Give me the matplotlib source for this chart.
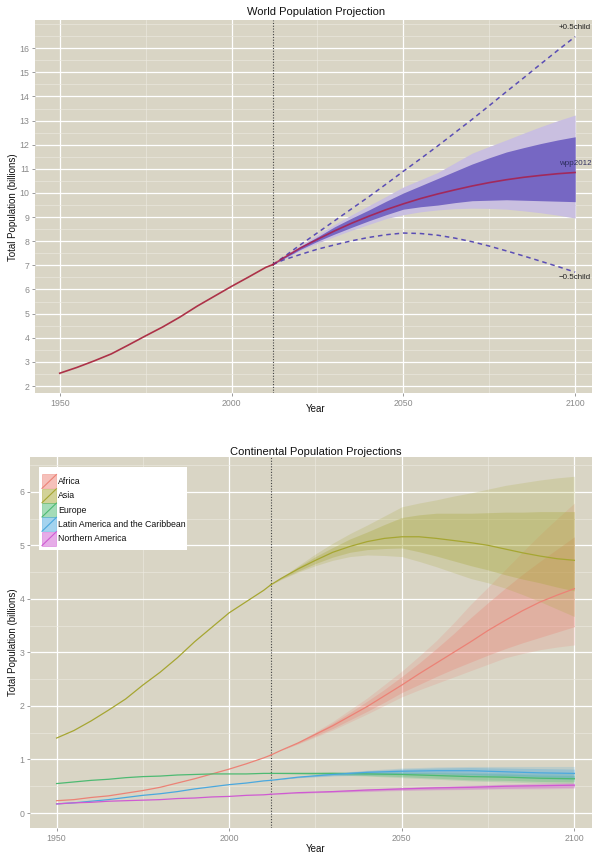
import matplotlib
matplotlib.use("Agg")
import matplotlib.pyplot as plt
from matplotlib.patches import Patch, Rectangle
from matplotlib.lines import Line2D
from matplotlib.legend_handler import HandlerBase
from matplotlib.ticker import MultipleLocator, FixedLocator

plt.rcParams["font.family"] = ["Liberation Sans", "DejaVu Sans"]

W, H = 592, 855
BG = "#D9D5C5"
BASE_YEAR = 2012

# --- world totals (billions) ---
HIST_YEARS = [1950, 1955, 1960, 1965, 1970, 1975, 1980, 1985, 1990, 1995, 2000, 2005, 2010, 2012]
PROJ_YEARS = [2012, 2015, 2020, 2025, 2030, 2035, 2040, 2045, 2050, 2055,
              2060, 2065, 2070, 2075, 2080, 2085, 2090, 2095, 2100]
DECADE_YEARS = [2012, 2020, 2030, 2040, 2050, 2060, 2070, 2080, 2090, 2100]

world_hist = [2.53, 2.77, 3.04, 3.33, 3.70, 4.08, 4.45, 4.86, 5.31, 5.72, 6.13, 6.52, 6.92, 7.03]
world_med = [7.03, 7.30, 7.72, 8.08, 8.43, 8.75, 9.04, 9.31, 9.55, 9.77,
             9.96, 10.13, 10.29, 10.43, 10.55, 10.65, 10.73, 10.80, 10.85]
world_lo80 = [7.03, 7.27, 7.66, 8.00, 8.30, 8.58, 8.85, 9.10, 9.33, 9.43,
              9.50, 9.60, 9.68, 9.70, 9.72, 9.70, 9.68, 9.66, 9.64]
world_hi80 = [7.03, 7.33, 7.78, 8.18, 8.60, 8.96, 9.30, 9.66, 10.00, 10.30,
              10.60, 10.90, 11.20, 11.46, 11.70, 11.88, 12.05, 12.20, 12.33]
world_lo95 = [7.03, 7.25, 7.62, 7.92, 8.20, 8.46, 8.70, 8.94, 9.10, 9.22,
              9.30, 9.35, 9.37, 9.36, 9.33, 9.26, 9.18, 9.08, 8.96]
world_hi95 = [7.03, 7.35, 7.82, 8.27, 8.70, 9.10, 9.48, 9.86, 10.25, 10.55,
              10.85, 11.25, 11.65, 11.93, 12.20, 12.48, 12.75, 13.00, 13.23]
world_high = [7.03, 7.33, 7.85, 8.35, 8.85, 9.35, 9.85, 10.37, 10.90, 11.42,
              11.95, 12.50, 13.05, 13.62, 14.20, 14.77, 15.35, 15.92, 16.48]
world_low = [7.03, 7.22, 7.45, 7.67, 7.85, 8.02, 8.16, 8.27, 8.34, 8.32,
             8.25, 8.13, 7.98, 7.80, 7.60, 7.39, 7.17, 6.95, 6.72]

# --- continents (billions) ---
REGIONS = ["Africa", "Asia", "Europe", "Latin America and the Caribbean", "Northern America"]
REGION_COLORS = ["#EC8276", "#A6A632", "#4DBA72", "#4AA8DE", "#CF5AD2"]

reg_hist = {
    "Africa": [0.23, 0.25, 0.29, 0.32, 0.37, 0.42, 0.48, 0.56, 0.64, 0.73, 0.82, 0.92, 1.03, 1.08],
    "Asia": [1.40, 1.54, 1.72, 1.92, 2.13, 2.39, 2.63, 2.90, 3.20, 3.47, 3.74, 3.95, 4.16, 4.26],
    "Europe": [0.55, 0.58, 0.61, 0.63, 0.66, 0.68, 0.69, 0.71, 0.72, 0.73, 0.73, 0.73, 0.74, 0.74],
    "Latin America and the Caribbean": [0.17, 0.19, 0.22, 0.25, 0.29, 0.33, 0.36, 0.40, 0.45, 0.49, 0.53, 0.56, 0.60, 0.61],
    "Northern America": [0.17, 0.19, 0.20, 0.22, 0.23, 0.24, 0.25, 0.27, 0.28, 0.30, 0.31, 0.33, 0.34, 0.35],
}

# Africa and Asia on the 5-year grid
big_med = {
    "Africa": [1.08, 1.17, 1.31, 1.47, 1.63, 1.81, 1.99, 2.19, 2.39, 2.60,
               2.80, 3.00, 3.20, 3.41, 3.60, 3.78, 3.94, 4.07, 4.19],
    "Asia": [4.26, 4.38, 4.56, 4.72, 4.87, 4.98, 5.07, 5.13, 5.16, 5.16,
             5.13, 5.09, 5.05, 5.00, 4.93, 4.86, 4.80, 4.75, 4.72],
}
big_lo80 = {
    "Africa": [1.08, 1.17, 1.30, 1.44, 1.58, 1.74, 1.90, 2.07, 2.25, 2.40,
               2.55, 2.69, 2.82, 2.95, 3.07, 3.18, 3.28, 3.38, 3.48],
    "Asia": [4.26, 4.37, 4.52, 4.66, 4.78, 4.87, 4.92, 4.94, 4.95, 4.88,
             4.80, 4.71, 4.62, 4.54, 4.45, 4.37, 4.30, 4.22, 4.15],
}
big_hi80 = {
    "Africa": [1.08, 1.17, 1.32, 1.50, 1.68, 1.88, 2.09, 2.31, 2.55, 2.80,
               3.07, 3.35, 3.65, 3.93, 4.20, 4.46, 4.70, 4.93, 5.16],
    "Asia": [4.26, 4.39, 4.60, 4.79, 4.96, 5.12, 5.25, 5.39, 5.52, 5.57,
             5.60, 5.60, 5.60, 5.61, 5.62, 5.62, 5.63, 5.63, 5.63],
}
big_lo95 = {
    "Africa": [1.08, 1.17, 1.29, 1.42, 1.55, 1.70, 1.85, 2.01, 2.17, 2.30,
               2.42, 2.54, 2.66, 2.78, 2.90, 2.98, 3.05, 3.10, 3.14],
    "Asia": [4.26, 4.36, 4.50, 4.62, 4.72, 4.79, 4.82, 4.81, 4.79, 4.70,
             4.60, 4.49, 4.38, 4.30, 4.20, 4.08, 3.95, 3.81, 3.67],
}
big_hi95 = {
    "Africa": [1.08, 1.17, 1.33, 1.52, 1.71, 1.93, 2.15, 2.40, 2.65, 2.93,
               3.22, 3.55, 3.90, 4.22, 4.55, 4.88, 5.20, 5.50, 5.79],
    "Asia": [4.26, 4.40, 4.62, 4.84, 5.04, 5.22, 5.38, 5.55, 5.72, 5.79,
             5.85, 5.92, 5.98, 6.05, 6.12, 6.17, 6.22, 6.26, 6.29],
}

# smaller regions on the decade grid
small_med = {
    "Europe": [0.74, 0.74, 0.74, 0.73, 0.72, 0.70, 0.68, 0.67, 0.65, 0.64],
    "Latin America and the Caribbean": [0.61, 0.67, 0.72, 0.76, 0.78, 0.79, 0.79, 0.77, 0.75, 0.74],
    "Northern America": [0.35, 0.38, 0.40, 0.43, 0.45, 0.47, 0.48, 0.50, 0.51, 0.52],
}
small_lo80 = {
    "Europe": [0.74, 0.73, 0.72, 0.70, 0.68, 0.65, 0.62, 0.61, 0.59, 0.58],
    "Latin America and the Caribbean": [0.61, 0.66, 0.70, 0.73, 0.74, 0.74, 0.72, 0.70, 0.68, 0.66],
    "Northern America": [0.35, 0.37, 0.39, 0.41, 0.43, 0.44, 0.45, 0.46, 0.47, 0.48],
}
small_hi80 = {
    "Europe": [0.74, 0.75, 0.76, 0.76, 0.76, 0.75, 0.74, 0.73, 0.71, 0.70],
    "Latin America and the Caribbean": [0.61, 0.68, 0.74, 0.79, 0.82, 0.84, 0.85, 0.84, 0.83, 0.82],
    "Northern America": [0.35, 0.38, 0.41, 0.44, 0.47, 0.49, 0.51, 0.53, 0.54, 0.55],
}
small_lo95 = {
    "Europe": [0.74, 0.73, 0.71, 0.69, 0.66, 0.63, 0.60, 0.58, 0.56, 0.55],
    "Latin America and the Caribbean": [0.61, 0.66, 0.69, 0.71, 0.72, 0.71, 0.69, 0.67, 0.64, 0.62],
    "Northern America": [0.35, 0.37, 0.39, 0.40, 0.42, 0.43, 0.44, 0.45, 0.45, 0.46],
}
small_hi95 = {
    "Europe": [0.74, 0.75, 0.77, 0.77, 0.77, 0.77, 0.76, 0.75, 0.74, 0.74],
    "Latin America and the Caribbean": [0.61, 0.68, 0.75, 0.80, 0.84, 0.86, 0.87, 0.87, 0.87, 0.87],
    "Northern America": [0.35, 0.38, 0.42, 0.45, 0.48, 0.50, 0.52, 0.54, 0.56, 0.57],
}


class RibbonKey(HandlerBase):
    """ggplot-style key: translucent filled square crossed by a diagonal line."""
    def create_artists(self, legend, orig_handle, xdescent, ydescent,
                       width, height, fontsize, trans):
        c = orig_handle.get_edgecolor()
        rect = Rectangle((-xdescent, -ydescent), width, height, facecolor=c,
                         alpha=0.5, edgecolor=c, lw=0.6, transform=trans)
        line = Line2D([-xdescent, -xdescent + width], [-ydescent, -ydescent + height],
                      color=c, lw=0.8, transform=trans)
        return [rect, line]


def style_axes(ax, xlim, ylim, yticks):
    ax.set_facecolor(BG)
    ax.set_xlim(*xlim)
    ax.set_ylim(*ylim)
    ax.xaxis.set_major_locator(MultipleLocator(50))
    ax.xaxis.set_minor_locator(MultipleLocator(25))
    ax.yaxis.set_major_locator(FixedLocator(yticks))
    ax.yaxis.set_minor_locator(MultipleLocator(0.5))
    ax.grid(True, which="major", color="white", lw=0.9)
    ax.grid(True, which="minor", color="#ECE9DF", lw=0.45)
    ax.set_axisbelow(True)
    for sp in ax.spines.values():
        sp.set_visible(False)
    ax.tick_params(which="major", length=2.5, width=0.6, color="#8a8a8a",
                   labelsize=6.3, labelcolor="#8a8a8a", pad=1.5)
    ax.tick_params(which="minor", length=0)
    ax.axvline(BASE_YEAR, color="#444444", lw=0.8, ls=(0, (1, 1.5)), zorder=1)


fig = plt.figure(figsize=(W / 100, H / 100), dpi=100)
fig.patch.set_facecolor("white")

# ---------------- world panel ----------------
ax1 = fig.add_axes([35 / W, 1 - 393 / H, 557 / W, 373 / H])
style_axes(ax1, (1942.8, 2104.9), (1.71, 17.17), list(range(2, 17)))

ax1.fill_between(PROJ_YEARS, world_lo95, world_hi95, color="#C9BFE0", lw=0, zorder=2)
ax1.fill_between(PROJ_YEARS, world_lo80, world_hi80, color="#7667C3", lw=0, zorder=2.1)
ax1.plot(PROJ_YEARS, world_high, color="#5A4DB5", lw=1.1, ls=(0, (3, 2.5)), zorder=3)
ax1.plot(PROJ_YEARS, world_low, color="#5A4DB5", lw=1.1, ls=(0, (3, 2.5)), zorder=3)
ax1.plot(HIST_YEARS, world_hist, color="#A8203A", lw=1.2, alpha=0.9, zorder=4)
ax1.plot(PROJ_YEARS, world_med, color="#B0153A", lw=1.2, alpha=0.75, zorder=4)

ax1.text(PROJ_YEARS[-1], world_high[-1] + 0.38, "+0.5child", ha="center", va="center",
         fontsize=5.8, color="#222222")
ax1.text(PROJ_YEARS[-1], world_med[-1] + 0.36, "wpp2012", ha="center", va="center",
         fontsize=5.8, color="#2E2E5E")
ax1.text(PROJ_YEARS[-1], world_low[-1] - 0.22, "\u22120.5child", ha="center", va="center",
         fontsize=5.8, color="#222222")

fig.text(316 / W, 1 - 12 / H, "World Population Projection", ha="center", va="center",
         fontsize=8, color="#111111")
fig.text(316 / W, 1 - 409 / H, "Year", ha="center", va="center", fontsize=7, color="#111111")
fig.text(13 / W, 1 - 207 / H, "Total Population (billions)", ha="center", va="center",
         rotation=90, fontsize=7, color="#111111")

# ---------------- continental panel ----------------
ax2 = fig.add_axes([30 / W, 1 - 828 / H, 562 / W, 371 / H])
style_axes(ax2, (1942.3, 2105.1), (-0.28, 6.65), list(range(0, 7)))

colors = dict(zip(REGIONS, REGION_COLORS))
for name in REGIONS:
    col = colors[name]
    if name in big_med:
        yrs, lo95, hi95, lo80, hi80 = PROJ_YEARS, big_lo95[name], big_hi95[name], big_lo80[name], big_hi80[name]
    else:
        yrs, lo95, hi95, lo80, hi80 = DECADE_YEARS, small_lo95[name], small_hi95[name], small_lo80[name], small_hi80[name]
    ax2.fill_between(yrs, lo95, hi95, color=col, alpha=0.2, lw=0, zorder=2)
    ax2.fill_between(yrs, lo80, hi80, color=col, alpha=0.3, lw=0, zorder=2)
for name in REGIONS:
    col = colors[name]
    ax2.plot(HIST_YEARS, reg_hist[name], color=col, lw=0.9, zorder=3)
    if name in big_med:
        ax2.plot(PROJ_YEARS, big_med[name], color=col, lw=0.9, zorder=3)
    else:
        ax2.plot(DECADE_YEARS, small_med[name], color=col, lw=0.9, zorder=3)

# white legend box drawn separately so its padding can differ per side
fig.add_artist(Rectangle((39 / W, 1 - 550 / H), 148 / W, 83 / H, transform=fig.transFigure,
                         facecolor="white", edgecolor="none", zorder=2))
handles = [Patch(edgecolor=colors[n], facecolor=colors[n], label=n) for n in REGIONS]
leg = fig.legend(handles=handles, handler_map={Patch: RibbonKey()},
                 loc="upper left", bbox_to_anchor=(42 / W, 1 - 474.5 / H),
                 bbox_transform=fig.transFigure, borderaxespad=0, fontsize=6.3,
                 frameon=False, handlelength=1.65, handleheight=2.06,
                 handletextpad=0.2, labelspacing=0.05, borderpad=0)
leg.set_zorder(3)
for t in leg.get_texts():
    t.set_color("#111111")

fig.text(316 / W, 1 - 452 / H, "Continental Population Projections", ha="center", va="center",
         fontsize=8, color="#111111")
fig.text(316 / W, 1 - 849 / H, "Year", ha="center", va="center", fontsize=7, color="#111111")
fig.text(13 / W, 1 - 642 / H, "Total Population (billions)", ha="center", va="center",
         rotation=90, fontsize=7, color="#111111")

fig.savefig("out.png", dpi=100, facecolor="white")
